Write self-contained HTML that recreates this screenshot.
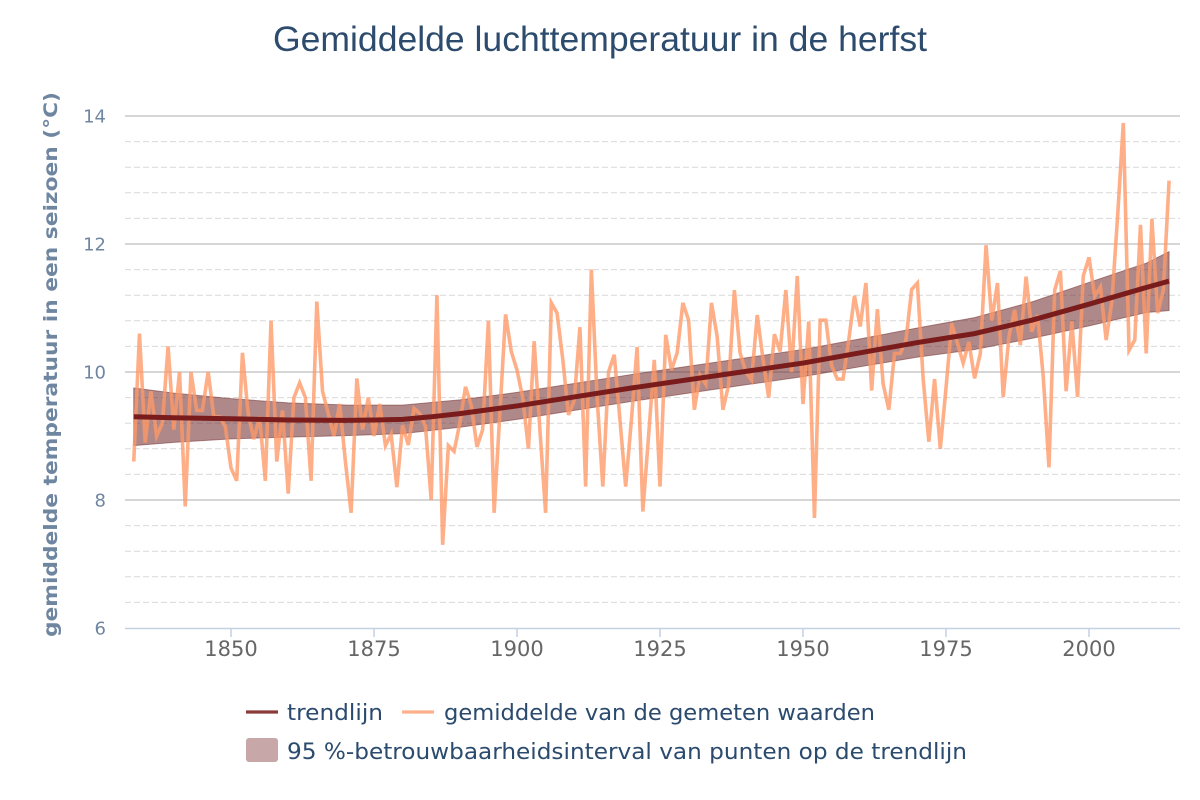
<!DOCTYPE html>
<html>
<head>
<meta charset="utf-8">
<style>
html,body{margin:0;padding:0;background:#fff;}
svg{display:block;}
</style>
</head>
<body>
<svg width="1200" height="800" viewBox="0 0 1200 800" xmlns="http://www.w3.org/2000/svg">
<rect x="0" y="0" width="1200" height="800" fill="#ffffff"/>

<!-- Title -->
<text x="600" y="51" text-anchor="middle" font-family="'Liberation Sans', sans-serif" font-size="35" fill="#2d4b6d" textLength="654" lengthAdjust="spacingAndGlyphs">Gemiddelde luchttemperatuur in de herfst</text>

<!-- minor dashed gridlines -->
<g stroke="#d9d9d9" stroke-width="1" stroke-dasharray="6,3">
<line x1="125" x2="1180" y1="141.6" y2="141.6"/>
<line x1="125" x2="1180" y1="167.2" y2="167.2"/>
<line x1="125" x2="1180" y1="192.8" y2="192.8"/>
<line x1="125" x2="1180" y1="218.4" y2="218.4"/>
<line x1="125" x2="1180" y1="269.6" y2="269.6"/>
<line x1="125" x2="1180" y1="295.2" y2="295.2"/>
<line x1="125" x2="1180" y1="320.8" y2="320.8"/>
<line x1="125" x2="1180" y1="346.4" y2="346.4"/>
<line x1="125" x2="1180" y1="397.6" y2="397.6"/>
<line x1="125" x2="1180" y1="423.2" y2="423.2"/>
<line x1="125" x2="1180" y1="448.8" y2="448.8"/>
<line x1="125" x2="1180" y1="474.4" y2="474.4"/>
<line x1="125" x2="1180" y1="525.6" y2="525.6"/>
<line x1="125" x2="1180" y1="551.2" y2="551.2"/>
<line x1="125" x2="1180" y1="576.8" y2="576.8"/>
<line x1="125" x2="1180" y1="602.4" y2="602.4"/>
</g>
<!-- major gridlines -->
<g stroke="#bdbdbd" stroke-width="1.3">
<line x1="125" x2="1180" y1="116" y2="116"/>
<line x1="125" x2="1180" y1="244" y2="244"/>
<line x1="125" x2="1180" y1="372" y2="372"/>
<line x1="125" x2="1180" y1="500" y2="500"/>
</g>

<!-- x axis -->
<line x1="125" x2="1180" y1="628.5" y2="628.5" stroke="#c3d1e2" stroke-width="1.5"/>
<g stroke="#c3d1e2" stroke-width="1.5">
<line x1="231" x2="231" y1="628" y2="637"/>
<line x1="374" x2="374" y1="628" y2="637"/>
<line x1="517" x2="517" y1="628" y2="637"/>
<line x1="660" x2="660" y1="628" y2="637"/>
<line x1="803" x2="803" y1="628" y2="637"/>
<line x1="946" x2="946" y1="628" y2="637"/>
<line x1="1089" x2="1089" y1="628" y2="637"/>
</g>
<g font-family="'DejaVu Sans', sans-serif" font-size="21" fill="#666666" text-anchor="middle">
<text x="231" y="656">1850</text>
<text x="374" y="656">1875</text>
<text x="517" y="656">1900</text>
<text x="660" y="656">1925</text>
<text x="803" y="656">1950</text>
<text x="946" y="656">1975</text>
<text x="1089" y="656">2000</text>
</g>

<!-- y labels -->
<g font-family="'DejaVu Sans', sans-serif" font-size="18" fill="#6f86a1" text-anchor="end">
<text x="106" y="122.5">14</text>
<text x="106" y="250.5">12</text>
<text x="106" y="378.5">10</text>
<text x="106" y="506.5">8</text>
<text x="106" y="634.5">6</text>
</g>

<!-- y axis title -->
<text transform="translate(57,637) rotate(-90)" x="0" y="0" font-family="'DejaVu Sans', sans-serif" font-weight="bold" font-size="19" fill="#6f86a1" textLength="545" lengthAdjust="spacingAndGlyphs">gemiddelde temperatuur in een seizoen (°C)</text>

<!-- data in data coordinates: t = year-1850, v = temperature -->
<g transform="matrix(5.72 0 0 -64 231 1012)">
<polygon fill="#6e2828" fill-opacity="0.55" stroke="#7d3c3c" stroke-opacity="0.6" stroke-width="1" vector-effect="non-scaling-stroke"
points="-17,9.75 -10,9.67 0,9.584 10,9.518 20,9.484 30,9.483 40,9.564 50,9.681 60,9.82 70,9.96 80,10.09 90,10.22 100,10.352 110,10.517 120,10.688 130,10.849 140,11.094 150,11.399 160,11.70 164,11.88 164,10.96 160,10.93 150,10.721 140,10.526 130,10.351 120,10.232 110,10.083 100,9.928 90,9.80 80,9.67 70,9.54 60,9.40 50,9.259 40,9.136 30,9.0375 20,9.006 10,8.982 0,8.956 -10,8.90 -17,8.85"/>

<polyline fill="none" stroke="#ff9966" stroke-opacity="0.78" stroke-width="3.6" stroke-linejoin="miter" vector-effect="non-scaling-stroke"
points="-17,8.6 -16,10.6 -15,8.9 -14,9.7 -13,9.0 -12,9.2 -11,10.4 -10,9.1 -9,10.0 -8,7.9 -7,10.0 -6,9.4 -5,9.4 -4,10.0 -3,9.3 -2,9.3 -1,9.15 0,8.5 1,8.3 2,10.3 3,9.35 4,8.95 5,9.3 6,8.3 7,10.8 8,8.6 9,9.4 10,8.1 11,9.6 12,9.83 13,9.6 14,8.3 15,11.1 16,9.7 17,9.35 18,9.0 19,9.5 20,8.6 21,7.8 22,9.9 23,9.1 24,9.6 25,9.0 26,9.5 27,8.85 28,9.03 29,8.2 30,9.17 31,8.86 32,9.43 33,9.35 34,9.15 35,8.0 36,11.2 37,7.3 38,8.85 39,8.76 40,9.2 41,9.77 42,9.48 43,8.83 44,9.1 45,10.8 46,7.8 47,9.35 48,10.9 49,10.32 50,10.03 51,9.6 52,8.8 53,10.48 54,9.1 55,7.8 56,11.08 57,10.92 58,10.2 59,9.33 60,9.55 61,10.7 62,8.21 63,11.6 64,9.6 65,8.21 66,10.0 67,10.27 68,9.25 69,8.21 70,9.25 71,10.39 72,7.82 73,9.0 74,10.19 75,8.21 76,10.58 77,10.03 78,10.3 79,11.08 80,10.81 81,9.41 82,9.95 83,9.81 84,11.08 85,10.55 86,9.41 87,9.8 88,11.28 89,10.3 90,10.0 91,9.875 92,10.89 93,10.2 94,9.6 95,10.59 96,10.32 97,11.28 98,10.0 99,11.5 100,9.5 101,10.79 102,7.72 103,10.81 104,10.81 105,10.1 106,9.89 107,9.89 108,10.5 109,11.19 110,10.71 111,11.39 112,9.71 113,10.98 114,9.82 115,9.41 116,10.29 117,10.29 118,10.5 119,11.29 120,11.39 121,9.9 122,8.91 123,9.89 124,8.8 125,9.75 126,10.76 127,10.45 128,10.14 129,10.47 130,9.9 131,10.29 132,11.98 133,10.8 134,11.39 135,9.61 136,10.55 137,10.97 138,10.42 139,11.49 140,10.63 141,10.89 142,9.93 143,8.51 144,11.28 145,11.58 146,9.7 147,10.79 148,9.61 149,11.5 150,11.79 151,11.18 152,11.33 153,10.5 154,11.1 155,12.43 156,13.89 157,10.34 158,10.5 159,12.3 160,10.29 161,12.39 162,10.92 163,11.28 164,12.99"/>

<polyline fill="none" stroke="#7a1c1c" stroke-width="5" stroke-linejoin="round" vector-effect="non-scaling-stroke"
points="-17,9.30 -10,9.285 0,9.27 10,9.25 20,9.245 25,9.25 30,9.26 35,9.30 40,9.35 45,9.41 50,9.47 60,9.61 70,9.75 80,9.88 90,10.01 100,10.14 110,10.30 120,10.46 130,10.60 140,10.81 150,11.06 160,11.32 164,11.42"/>
</g>

<!-- Legend -->
<line x1="246" x2="278" y1="712" y2="712" stroke="#8b3a3a" stroke-width="3.2"/>
<text x="287" y="720" font-family="'DejaVu Sans', sans-serif" font-size="22.5" fill="#2b4b6e" textLength="96" lengthAdjust="spacingAndGlyphs">trendlijn</text>
<line x1="402" x2="434" y1="712" y2="712" stroke="#ffb08a" stroke-width="3.2"/>
<text x="444" y="720" font-family="'DejaVu Sans', sans-serif" font-size="22.5" fill="#2b4b6e" textLength="431" lengthAdjust="spacingAndGlyphs">gemiddelde van de gemeten waarden</text>
<rect x="246" y="738" width="32" height="24" rx="3" ry="3" fill="#c7a7a7"/>
<text x="287" y="759" font-family="'DejaVu Sans', sans-serif" font-size="22.5" fill="#2b4b6e" textLength="680" lengthAdjust="spacingAndGlyphs">95 %-betrouwbaarheidsinterval van punten op de trendlijn</text>
</svg>
</body>
</html>
